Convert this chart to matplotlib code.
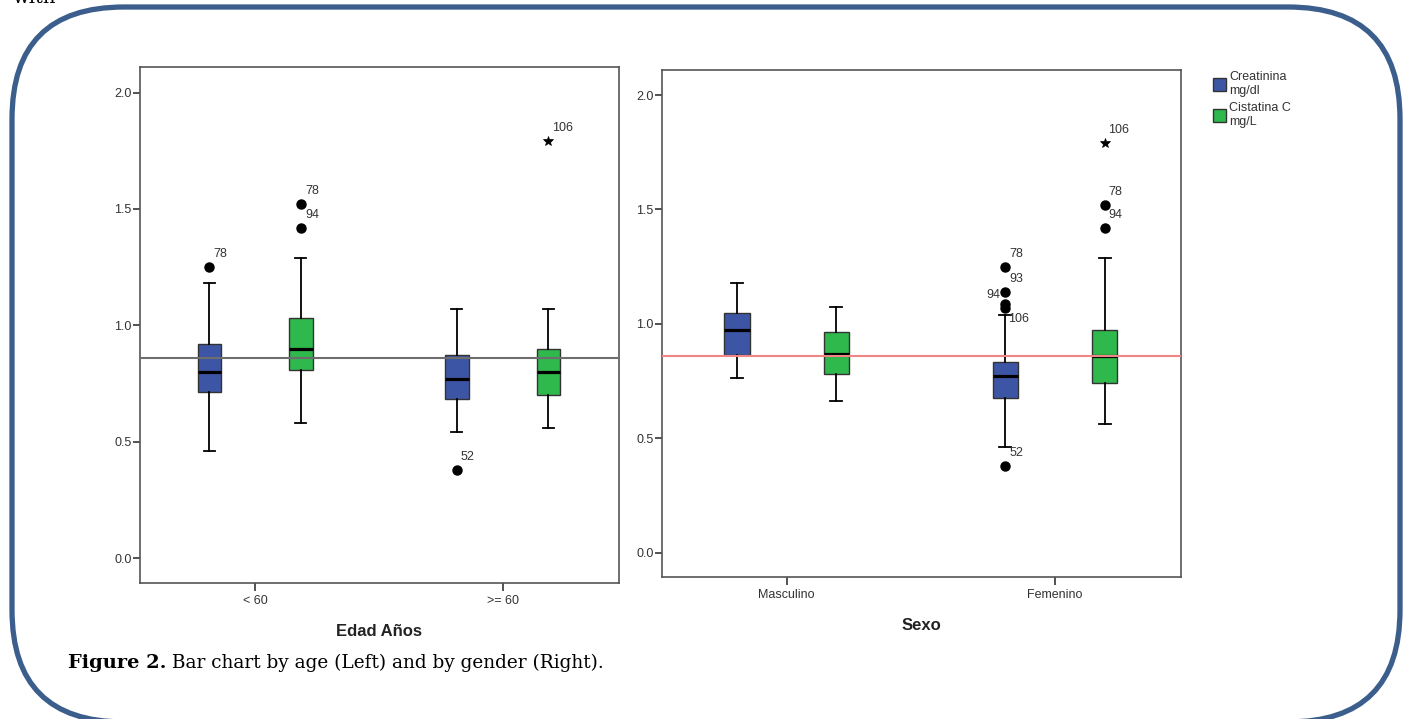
import matplotlib
matplotlib.use("Agg")
import matplotlib.pyplot as plt
from matplotlib.patches import FancyBboxPatch, Patch

plt.rcParams["font.family"] = ["Liberation Sans", "DejaVu Sans"]

# Series (legend)
series_names = ["Creatinina\nmg/dl", "Cistatina C\nmg/L"]
series_colors = ["#3d55a5", "#2fb84b"]

# Left panel: by age  -- each row is [whislo, q1, median, q3, whishi]
age_groups = ["< 60", ">= 60"]
age_creat = [[0.46, 0.712, 0.80, 0.92, 1.18], [0.54, 0.682, 0.771, 0.871, 1.072]]
age_cist = [[0.58, 0.81, 0.897, 1.032, 1.29], [0.56, 0.70, 0.80, 0.90, 1.07]]
age_out_group = [0, 0, 0, 1, 1]
age_out_series = [0, 1, 1, 0, 1]
age_out_value = [1.25, 1.52, 1.42, 0.38, 1.79]
age_out_case = ["78", "78", "94", "52", "106"]
age_out_extreme = [False, False, False, False, True]
age_ref = 0.86

# Right panel: by sex
sex_groups = ["Masculino", "Femenino"]
sex_creat = [[0.763, 0.864, 0.971, 1.048, 1.18], [0.461, 0.676, 0.773, 0.831, 1.039]]
sex_cist = [[0.662, 0.78, 0.869, 0.965, 1.072], [0.562, 0.743, 0.861, 0.974, 1.29]]
sex_out_group = [1, 1, 1, 1, 1, 1, 1, 1]
sex_out_series = [0, 0, 0, 0, 0, 1, 1, 1]
sex_out_value = [1.25, 1.14, 1.088, 1.07, 0.38, 1.52, 1.42, 1.79]
sex_out_case = ["78", "93", "94", "106", "52", "78", "94", "106"]
sex_out_extreme = [False, False, False, False, False, False, False, True]
sex_ref = 0.86

caption_bold = "Figure 2."
caption_text = " Bar chart by age (Left) and by gender (Right)."

# label placement tweaks (ha, va, dx px, dy px)
label_style = {
    ("sex", 0, "94"): ("right", "center", -5, 9),
    ("sex", 0, "106"): ("left", "top", 3, -5),
}

W, H = 1409, 719
fig = plt.figure(figsize=(W / 100, H / 100), dpi=100)
fig.patch.set_facecolor("white")

# page background: rounded frame, caption (pixel coords, y up)
bg = fig.add_axes([0, 0, 1, 1], zorder=-1)
bg.set_xlim(0, W)
bg.set_ylim(0, H)
bg.axis("off")
bg.add_patch(FancyBboxPatch((12, -3), 1388, 715, boxstyle="round,pad=0,rounding_size=112",
                            fill=False, ec="#3b5e8c", lw=3.8))
bg.text(13, H - 3, "with", family="DejaVu Serif", fontsize=14, va="baseline", color="black")
t1 = bg.text(68, H - 663, caption_bold, family="DejaVu Serif", fontweight="bold",
             fontsize=14, va="center", ha="left", color="black")
bg.annotate(caption_text, xy=(1, 0), xycoords=t1, va="bottom", ha="left",
            family="DejaVu Serif", fontsize=13.3, color="black")

offsets = [-0.185, 0.185]


def draw_panel(ax, key, groups, creat, cist, og, os_, ov, oc, oe, ref, ref_color, xlabel):
    for s, data in enumerate([creat, cist]):
        stats = [dict(whislo=d[0], q1=d[1], med=d[2], q3=d[3], whishi=d[4], fliers=[])
                 for d in data]
        ax.bxp(stats, positions=[g + offsets[s] for g in range(len(groups))],
               widths=0.095, capwidths=0.045, patch_artist=True, showfliers=False,
               manage_ticks=False,
               boxprops=dict(facecolor=series_colors[s], edgecolor="#333333", lw=1),
               medianprops=dict(color="black", lw=2.3),
               whiskerprops=dict(color="black", lw=1.3),
               capprops=dict(color="black", lw=1.3))
    ax.axhline(ref, color=ref_color, lw=1.5, zorder=5)
    for g, s, v, c, e in zip(og, os_, ov, oc, oe):
        x = g + offsets[s]
        if e:
            ax.plot(x, v, marker="*", ms=7, color="black", mec="black", mew=0.5,
                    ls="none", zorder=6)
        else:
            ax.plot(x, v, marker="o", ms=6.5, color="black", ls="none", zorder=6)
        ha, va, dx, dy = label_style.get((key, s, c), ("left", "bottom", 4, 7))
        ax.annotate(c, (x, v), xytext=(dx * 0.72, dy * 0.72), textcoords="offset points",
                    ha=ha, va=va, fontsize=9, color="#333333", zorder=7)
    ax.set_xlim(-0.465, 1.47)
    ax.set_ylim(-0.107, 2.11)
    ax.set_xticks(range(len(groups)))
    ax.set_xticklabels(groups)
    yt = [0, 0.5, 1.0, 1.5, 2.0]
    ax.set_yticks(yt)
    ax.set_yticklabels([f"{v:.1f}" for v in yt])
    ax.tick_params(axis="y", length=5, width=1.3, color="#444444", labelcolor="#333333",
                   labelsize=9, pad=1)
    ax.tick_params(axis="x", length=6, width=1.3, color="#444444", labelcolor="#333333",
                   labelsize=9, pad=3)
    for sp in ax.spines.values():
        sp.set_color("#555555")
        sp.set_linewidth(1.2)
    ax.set_xlabel(xlabel, fontsize=12, fontweight="bold", color="#222222", labelpad=12)


ax1 = fig.add_axes([140 / W, 1 - 583 / H, 479 / W, 516 / H])
draw_panel(ax1, "age", age_groups, age_creat, age_cist, age_out_group, age_out_series,
           age_out_value, age_out_case, age_out_extreme, age_ref, "#6e6e6e", "Edad Años")

ax2 = fig.add_axes([662 / W, 1 - 577 / H, 519 / W, 507 / H])
draw_panel(ax2, "sex", sex_groups, sex_creat, sex_cist, sex_out_group, sex_out_series,
           sex_out_value, sex_out_case, sex_out_extreme, sex_ref, "#f08585", "Sexo")

handles = [Patch(facecolor=c, edgecolor="#333333", lw=1) for c in series_colors]
fig.legend(handles, series_names, loc="upper left", bbox_to_anchor=(1213 / W, 1 - 71 / H),
           frameon=False, fontsize=9, handlelength=1.0, handleheight=1.2,
           handletextpad=0.3, labelspacing=0.45, borderpad=0, borderaxespad=0,
           labelcolor="#333333")

fig.savefig("out.png", dpi=100)
